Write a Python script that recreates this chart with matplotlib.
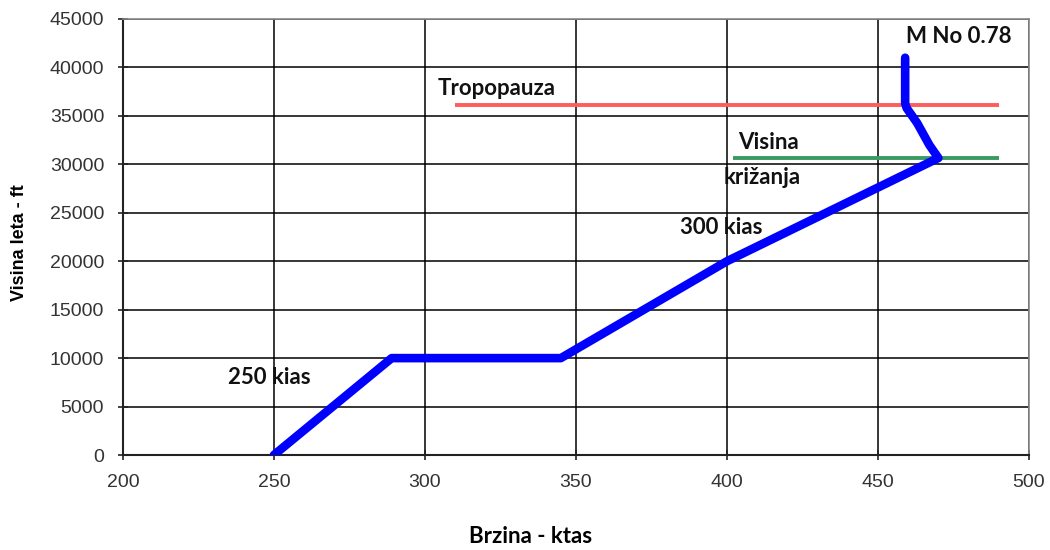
import matplotlib
matplotlib.use("Agg")
import matplotlib.pyplot as plt

# Data
speed_ktas = [250, 289, 345, 400, 470, 467, 463, 459.5, 459, 459]
altitude_ft = [0, 10000, 10000, 20000, 30650, 32000, 34250, 35800, 36300, 41000]

tropo_x = [310, 490]
tropo_y = [36100, 36100]
cross_x = [402, 490]
cross_y = [30680, 30680]

x_ticks = [200, 250, 300, 350, 400, 450, 500]
y_ticks = list(range(0, 45001, 5000))

fig = plt.figure(figsize=(10.5, 5.5), dpi=100)
ax = fig.add_axes([0.117, 0.1727, 0.863, 0.7928])

ax.set_xlim(200, 500)
ax.set_ylim(0, 45000)
ax.set_xticks(x_ticks)
ax.set_yticks(y_ticks)
ax.grid(True, color="black", linewidth=1.1)
ax.set_axisbelow(True)

ax.plot(tropo_x, tropo_y, color="#ff5c5c", linewidth=2.8, solid_capstyle="butt", zorder=3)
ax.plot(cross_x, cross_y, color="#3a9a62", linewidth=2.8, solid_capstyle="butt", zorder=3)
ax.plot(speed_ktas, altitude_ft, color="#0000ff", linewidth=6.2, solid_joinstyle="round",
        solid_capstyle="round", zorder=4)

for s in ["top", "right"]:
    ax.spines[s].set_color("#888888")
    ax.spines[s].set_linewidth(1.2)
for s in ["left", "bottom"]:
    ax.spines[s].set_color("#222222")
    ax.spines[s].set_linewidth(1.5)

ax.tick_params(axis="both", direction="inout", length=7, width=1.2, colors="#222222",
               labelsize=14, labelcolor="#333333")
ax.tick_params(axis="x", pad=10.5)
ax.tick_params(axis="y", pad=10)
for lbl in ax.get_xticklabels() + ax.get_yticklabels():
    lbl.set_family("Liberation Sans")

ax.set_xlabel("Brzina - ktas", fontsize=16, fontweight="bold", family="Lato")
ax.xaxis.set_label_coords(0.45, -0.163)
ax.set_ylabel("Visina leta - ft", fontsize=13, fontweight="bold", family="Liberation Sans")
ax.yaxis.set_label_coords(-0.1049, 0.486)

tkw = dict(fontsize=16, fontweight="bold", family="Lato", color="#111111")
ax.text(459.3, 43140, "M No 0.78", ha="left", va="center", **tkw)
ax.text(304.3, 37870, "Tropopauza", ha="left", va="center", **tkw)
ax.text(403.6, 32300, "Visina", ha="left", va="center", **tkw)
ax.text(399.0, 28590, "križanja", ha="left", va="center", **tkw)
ax.text(384.4, 23530, "300 kias", ha="left", va="center", **tkw)
ax.text(234.8, 8050, "250 kias", ha="left", va="center", **tkw)

fig.savefig("out.png", dpi=100)
